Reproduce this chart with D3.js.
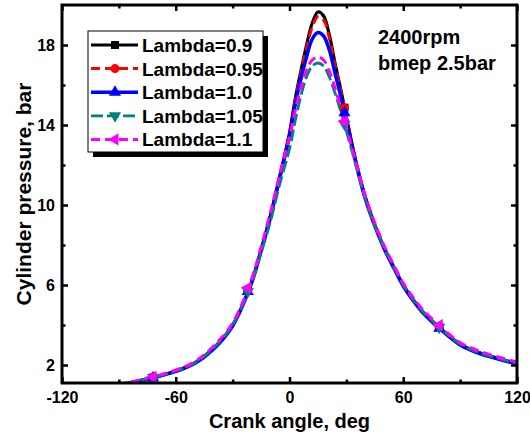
<!DOCTYPE html>
<html><head><meta charset="utf-8">
<script src="https://cdn.jsdelivr.net/npm/d3@7"></script>
<style>
body{margin:0;background:#fff;}
text{font-family:"Liberation Sans",Arial,sans-serif;font-weight:bold;}
</style></head>
<body><svg id="c" width="530" height="435"></svg>
<script>
// ---- data ----
const angles = [-120,-110,-100,-90,-80,-70,-60,-50,-40,-30,-20,-15,-10,-5,0,3,6,9,12,15,18,21,24,27,30,35,40,45,50,55,60,65,70,80,90,100,110,120];
const lambda090 = [0.55,0.65,0.8,1.0,1.2,1.42,1.7,2.1,2.85,4.0,6.15,7.75,9.5,11.5,13.6,15.3,16.7,18.0,19.1,19.65,19.45,18.5,17.1,15.8,14.4,12.2,10.4,9.0,7.85,6.9,6.0,5.3,4.7,3.8,3.05,2.62,2.33,2.08];
const lambda095 = [0.55,0.65,0.8,1.0,1.2,1.42,1.7,2.1,2.85,4.0,6.15,7.75,9.5,11.5,13.6,15.2,16.6,17.85,18.9,19.42,19.25,18.35,17.0,15.75,14.4,12.2,10.4,9.0,7.85,6.9,6.0,5.3,4.7,3.8,3.05,2.62,2.33,2.08];
const lambda100 = [0.55,0.65,0.8,0.98,1.18,1.4,1.68,2.07,2.8,3.95,6.1,7.7,9.4,11.4,13.45,15.0,16.3,17.4,18.3,18.62,18.45,17.75,16.6,15.45,14.2,12.1,10.3,8.95,7.8,6.85,5.95,5.25,4.65,3.75,3.0,2.58,2.3,2.04];
const lambda105 = [0.55,0.65,0.8,1.0,1.2,1.42,1.7,2.1,2.85,4.0,6.1,7.6,9.2,11.1,12.8,14.2,15.45,16.4,16.95,17.1,16.95,16.4,15.6,14.7,13.7,12.0,10.3,8.95,7.85,6.9,6.0,5.3,4.7,3.8,3.05,2.62,2.33,2.08];
const lambda110 = [0.57,0.68,0.83,1.03,1.23,1.46,1.75,2.16,2.95,4.1,6.3,7.9,9.65,11.6,13.4,14.7,15.85,16.75,17.25,17.4,17.25,16.7,15.85,14.85,13.85,12.15,10.45,9.1,7.95,7.0,6.1,5.4,4.8,3.9,3.12,2.7,2.4,2.15];
const seriesNames = ["Lambda=0.9","Lambda=0.95","Lambda=1.0","Lambda=1.05","Lambda=1.1"];
const seriesValues = [lambda090,lambda095,lambda100,lambda105,lambda110];
const markerAngles = [-72,-22,29,79];
const xMajorTicks = [-120,-60,0,60,120];
const xMinorTicks = [-90,-30,30,90];
const yMajorTicks = [2,6,10,14,18];
const yMinorTicks = [4,8,12,16];
const annotation = ["2400rpm","bmep 2.5bar"];
const xTitle = "Crank angle, deg";
const yTitle = "Cylinder pressure, bar";

// ---- styles ----
const colors = ["#000000","#ff0000","#0000ff","#008080","#ff00ff"];
const dashes = [null,"9,5",null,"12,4","9,5"];
const widths = [3.2,3,3.5,2.8,3];
const symbols = [d3.symbolSquare,d3.symbolCircle,d3.symbolTriangle,d3.symbolTriangle,d3.symbolTriangle];
const rotations = [0,0,0,180,-90];

const svg = d3.select("#c");
const L=62,R=517,T=5,B=383;
const x = d3.scaleLinear().domain([-120,120]).range([L,R]);
const y = d3.scaleLinear().domain([1.1,20]).range([B,T]);

svg.append("clipPath").attr("id","clip").append("rect")
  .attr("x",L).attr("y",T).attr("width",R-L).attr("height",B-T);

const line = d3.line().curve(d3.curveCatmullRom.alpha(0.5))
  .x(d=>x(d[0])).y(d=>y(d[1]));

const g = svg.append("g").attr("clip-path","url(#clip)");
seriesValues.forEach((vals,i)=>{
  const pts = angles.map((a,j)=>[a,vals[j]]);
  g.append("path").datum(pts).attr("d",line)
    .attr("fill","none").attr("stroke",colors[i]).attr("stroke-width",widths[i])
    .attr("stroke-dasharray",dashes[i]).attr("stroke-linejoin","round");
});
seriesValues.forEach((vals,i)=>{
  const interp = d3.scaleLinear().domain(angles).range(vals);
  g.selectAll(null).data(markerAngles).enter().append("path")
    .attr("d",d3.symbol().type(symbols[i]).size(64))
    .attr("transform",a=>`translate(${x(a)},${y(interp(a))}) rotate(${rotations[i]})`)
    .attr("fill",colors[i]);
});

// axes
const fs = "16px";
const fmt = d=>String(d);
function styleAxis(sel){ sel.select(".domain").remove(); sel.selectAll("line").attr("stroke","#000").attr("stroke-width",2.5); sel.selectAll("text").style("font-size",fs).attr("fill","#000"); }
svg.append("g").attr("transform",`translate(0,${B})`)
  .call(d3.axisBottom(x).tickValues(xMajorTicks).tickSize(-6).tickPadding(9).tickFormat(fmt)).call(styleAxis);
svg.append("g").attr("transform",`translate(0,${B})`)
  .call(d3.axisBottom(x).tickValues(xMinorTicks).tickSize(-3.5).tickFormat("")).call(styleAxis);
svg.append("g").attr("transform",`translate(0,${T})`)
  .call(d3.axisTop(x).tickValues(xMajorTicks).tickSize(-6).tickFormat("")).call(styleAxis);
svg.append("g").attr("transform",`translate(0,${T})`)
  .call(d3.axisTop(x).tickValues(xMinorTicks).tickSize(-3.5).tickFormat("")).call(styleAxis);
svg.append("g").attr("transform",`translate(${L},0)`)
  .call(d3.axisLeft(y).tickValues(yMajorTicks).tickSize(-6).tickPadding(7).tickFormat(fmt)).call(styleAxis);
svg.append("g").attr("transform",`translate(${L},0)`)
  .call(d3.axisLeft(y).tickValues(yMinorTicks).tickSize(-3.5).tickFormat("")).call(styleAxis);
svg.append("g").attr("transform",`translate(${R},0)`)
  .call(d3.axisRight(y).tickValues(yMajorTicks).tickSize(-6).tickFormat("")).call(styleAxis);
svg.append("g").attr("transform",`translate(${R},0)`)
  .call(d3.axisRight(y).tickValues(yMinorTicks).tickSize(-3.5).tickFormat("")).call(styleAxis);

svg.append("rect").attr("x",L).attr("y",T).attr("width",R-L).attr("height",B-T)
  .attr("fill","none").attr("stroke","#000").attr("stroke-width",3);

// titles
svg.append("text").attr("x",(L+R)/2).attr("y",428).attr("text-anchor","middle")
  .style("font-size","20px").text(xTitle);
svg.append("text").attr("transform",`translate(31,${(T+B)/2}) rotate(-90)`).attr("text-anchor","middle")
  .style("font-size","21px").text(yTitle);

// annotation
annotation.forEach((t,i)=>{
  svg.append("text").attr("x",378).attr("y",44+i*25.5).style("font-size","20px").text(t);
});

// legend
const lg = svg.append("g");
lg.append("rect").attr("x",93).attr("y",36).attr("width",175).attr("height",121).attr("fill","#000");
lg.append("rect").attr("x",88).attr("y",31).attr("width",175).attr("height",121).attr("fill","#fff").attr("stroke","#000").attr("stroke-width",1);
seriesNames.forEach((n,i)=>{
  const yy = 45+i*23.6;
  lg.append("line").attr("x1",91).attr("x2",138).attr("y1",yy).attr("y2",yy)
    .attr("stroke",colors[i]).attr("stroke-width",widths[i]).attr("stroke-dasharray",dashes[i]);
  lg.append("path").attr("d",d3.symbol().type(symbols[i]).size(64))
    .attr("transform",`translate(115,${yy}) rotate(${rotations[i]})`).attr("fill",colors[i]);
  lg.append("text").attr("x",142).attr("y",yy+7).style("font-size","19px").text(n);
});
</script></body></html>
